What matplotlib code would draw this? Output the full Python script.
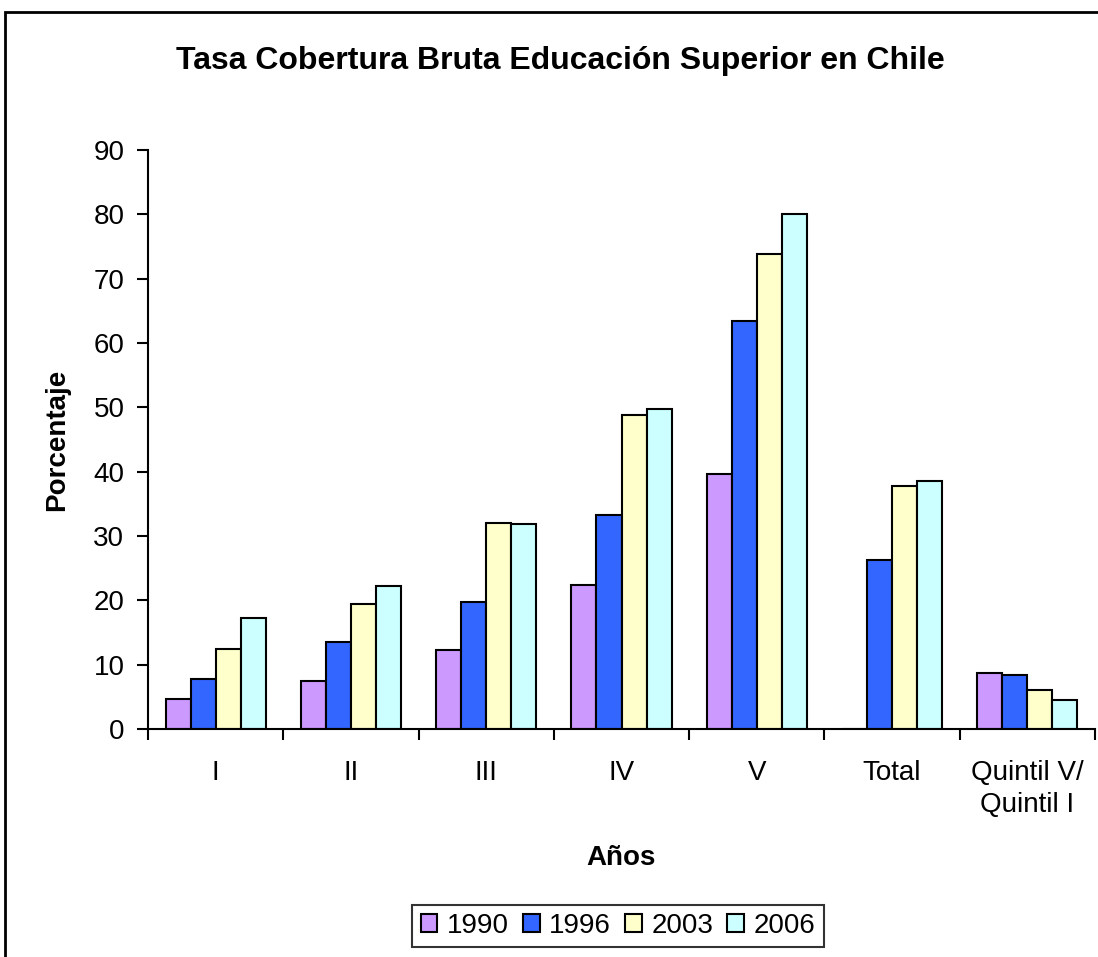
import matplotlib
matplotlib.use("Agg")
import matplotlib.pyplot as plt
import numpy as np
from matplotlib.patches import Rectangle

plt.rcParams['font.family'] = ['Liberation Sans', 'DejaVu Sans']

categories = ["I", "II", "III", "IV", "V", "Total", "Quintil V/\nQuintil I"]
series_names = ["1990", "1996", "2003", "2006"]
v1990 = [4.6, 7.5, 12.3, 22.4, 39.7, 0.0, 8.7]
v1996 = [7.8, 13.5, 19.7, 33.3, 63.4, 26.2, 8.4]
v2003 = [12.5, 19.4, 32.0, 48.8, 73.8, 37.8, 6.0]
v2006 = [17.3, 22.3, 31.8, 49.8, 80.1, 38.5, 4.5]
colors = ["#CC99FF", "#3366FF", "#FFFFCC", "#CCFFFF"]

fig = plt.figure(figsize=(10.98, 9.57), dpi=100)
ax = fig.add_axes([148/1098, 1-729/957, (1095-148)/1098, (729-150)/957])

x = np.arange(len(categories))
bw = 0.185
for i, (name, vals) in enumerate(zip(series_names, [v1990, v1996, v2003, v2006])):
    ax.bar(x + (i - 1.5) * bw, vals, width=bw, color=colors[i], edgecolor="black",
           linewidth=1.5, label=name)

ax.set_xlim(-0.5, len(categories) - 0.5)
ax.set_ylim(0, 90)
ax.set_yticks(range(0, 91, 10))
ax.tick_params(axis='y', labelsize=20, length=8, width=1.5, direction='out', pad=9)
ax.set_xticks(x)
ax.set_xticklabels(categories, fontsize=20, linespacing=1.3, va='top')
ax.tick_params(axis='x', length=0, pad=22)
ax.set_xticks(np.arange(-0.5, len(categories)), minor=True)
ax.tick_params(axis='x', which='minor', length=8, width=1.5, direction='out')
for s in ['top', 'right']:
    ax.spines[s].set_visible(False)
for s in ['left', 'bottom']:
    ax.spines[s].set_linewidth(1.5)

fig.text(57/1098, 1-440/957, "Porcentaje", fontsize=20, fontweight='bold', ha='center',
         va='center', rotation=90)
fig.text(621/1098, 1-858/957, "Años", fontsize=20, fontweight='bold', ha='center', va='center')
fig.text(560/1098, 1-61/957, "Tasa Cobertura Bruta Educación Superior en Chile",
         fontsize=23, fontweight='bold', ha='center', va='center')

leg = fig.legend(loc='center', bbox_to_anchor=(618/1098, 1-926/957), ncol=4, fontsize=20,
                 frameon=True, fancybox=False, edgecolor='black', handlelength=0.6,
                 handleheight=0.6, handletextpad=0.35, columnspacing=0.5, borderpad=0.3)
leg.get_frame().set_linewidth(1.5)

fig.patches.append(Rectangle((5/1098, -0.05), 1.2, 1-12/957 + 0.05, transform=fig.transFigure,
                             fill=False, edgecolor='black', linewidth=2, clip_on=False))

fig.savefig("out.png", dpi=100)
